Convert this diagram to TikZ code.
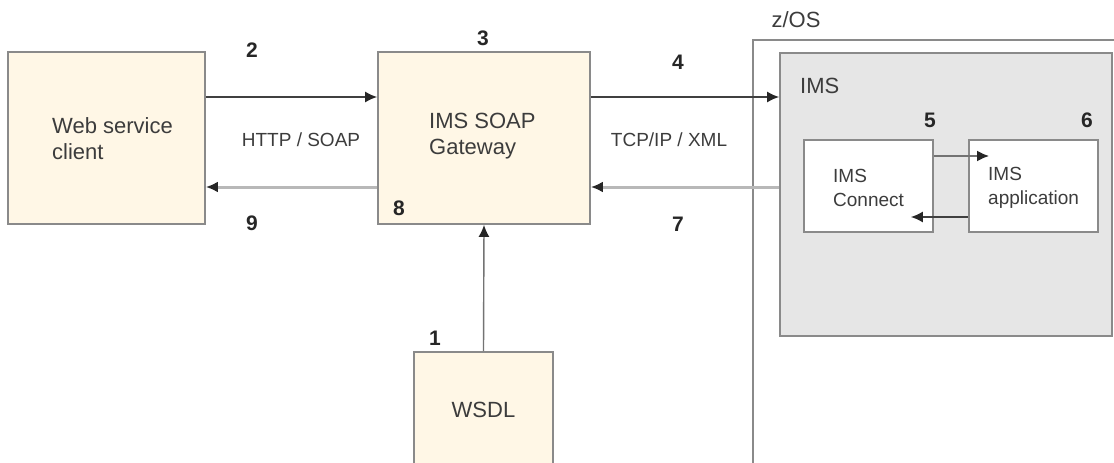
\documentclass[tikz,border=0pt]{standalone}
\usepackage{fontspec}
\setmainfont{Liberation Sans}
\usepackage{tikz}
\usetikzlibrary{arrows.meta,positioning,calc}
\definecolor{cream}{HTML}{FFF7E6}
\definecolor{edgegray}{HTML}{8A8A8A}
\definecolor{imsgray}{HTML}{E6E6E6}
\definecolor{txtgray}{HTML}{3C3C3C}
\definecolor{backgray}{HTML}{B8B8B8}

\begin{document}
\begin{tikzpicture}[x=1pt, y=-1pt,
    box/.style={draw=edgegray, fill=cream, line width=1.8pt, inner sep=0pt},
    graybox/.style={draw=edgegray, fill=imsgray, line width=1.8pt, inner sep=0pt},
    whitebox/.style={draw=edgegray, fill=white, line width=1.8pt, inner sep=0pt},
    bigtxt/.style={font=\fontsize{22}{26}\selectfont, text=txtgray, align=left, inner sep=0pt},
    smalltxt/.style={font=\fontsize{19}{24}\selectfont, text=txtgray, align=left, inner sep=0pt},
    num/.style={font=\fontsize{21}{25}\selectfont\bfseries, text=black!85, inner sep=0pt},
    fwd/.style={-{Latex[length=12pt,width=11pt,color=black!85]}, line width=1.4pt, draw=black!75},
    back/.style={-{Latex[length=12pt,width=11pt,color=black!85]}, line width=3pt, draw=backgray}]
    \useasboundingbox (0,0) rectangle (1114,463);
    \clip (0,0) rectangle (1114,463);

    % z/OS and IMS
    \node[draw=edgegray, line width=1.8pt, minimum width=397pt, minimum height=460pt, inner sep=0pt] (zos) at (951.5,270) {};
    \node[bigtxt] (zoslbl) at (796,20) {z/OS};
    \node[graybox, minimum width=332pt, minimum height=283pt] (ims) at (946,194.5) {};
    \node[bigtxt, anchor=west] (imslbl) at (800,86) {IMS};
    \node[whitebox, minimum width=129pt, minimum height=92pt] (conn) at (868.5,186) {};
    \node[whitebox, minimum width=129pt, minimum height=92pt] (app) at (1033.5,186) {};
    \node[smalltxt, anchor=west] (conntxt) at (833,188) {IMS\\Connect};
    \node[smalltxt, anchor=west] (apptxt) at (988,188) {IMS\\application};

    % Client, gateway, WSDL
    \node[box, minimum width=197pt, minimum height=172pt] (client) at (106.5,138) {};
    \node[bigtxt, anchor=west] (clienttxt) at (52,139) {Web service\\client};
    \node[box, minimum width=212pt, minimum height=172pt] (gw) at (484,138) {};
    \node[bigtxt, anchor=west] (gwtxt) at (429,136) {IMS SOAP\\Gateway};
    \node[box, minimum width=139pt, minimum height=116pt, font=\fontsize{22}{26}\selectfont, text=txtgray] (wsdl) at (483.5,410) {WSDL};

    % Protocol labels
    \node[smalltxt] (http) at (301,140) {HTTP / SOAP};
    \node[smalltxt] (tcp) at (669,140) {TCP/IP / XML};

    % Arrows
    \draw[fwd] (client.east |- 0,97) -- (gw.west |- 0,97);
    \draw[fwd] (gw.east |- 0,97) -- (ims.west |- 0,97);
    \draw[back] (ims.west |- 0,187) -- (gw.east |- 0,187);
    \draw[back] (gw.west |- 0,187) -- (client.east |- 0,187);
    \draw[fwd, draw=black!55] (wsdl.north) -- (gw.south);
    \coordinate (appin) at ([xshift=21pt]app.west);
    \coordinate (connin) at ([xshift=-23pt]conn.east);
    \draw[fwd, draw=black!55, line width=2pt] (conn.east |- 0,156) -- (appin |- 0,156);
    \draw[fwd] (app.west |- 0,217) -- (connin |- 0,217);

    % Step numbers
    \node[num] (n1) at (435,338) {1};
    \node[num] (n2) at (252,50) {2};
    \node[num] (n3) at (483,38) {3};
    \node[num] (n4) at (678,62) {4};
    \node[num] (n5) at (930,120) {5};
    \node[num] (n6) at (1087,120) {6};
    \node[num] (n7) at (678,224) {7};
    \node[num] (n8) at (399,208) {8};
    \node[num] (n9) at (252,223) {9};
\end{tikzpicture}
\end{document}
